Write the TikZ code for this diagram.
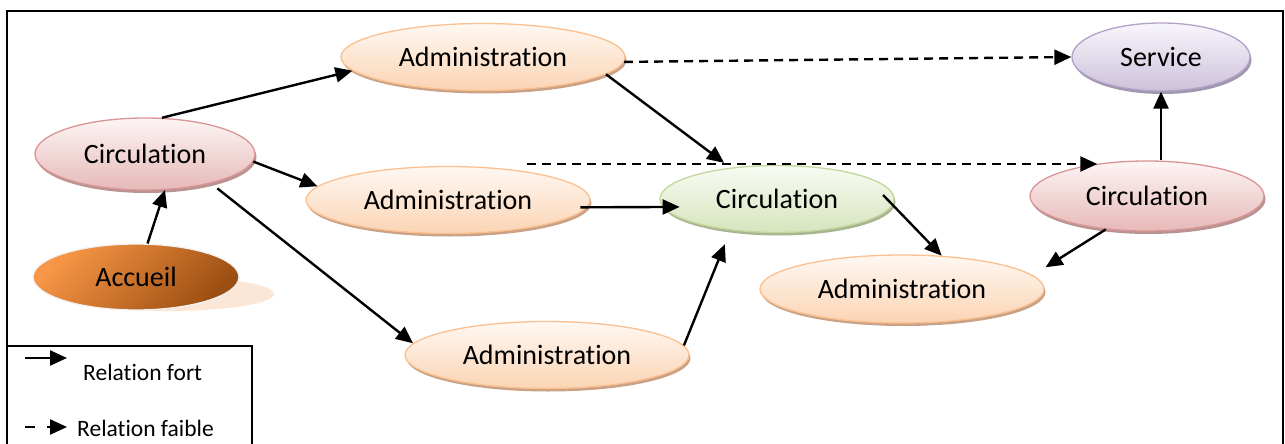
\documentclass[tikz,border=0pt]{standalone}
\usepackage{fontspec}
\setmainfont{Carlito}[Ligatures={NoCommon}, RawFeature={-liga;-clig;-dlig}]
\usetikzlibrary{shapes.geometric,shadows,arrows.meta}
\definecolor{pinkB}{HTML}{D99594}
\definecolor{pinkT}{HTML}{FDF5F5}
\definecolor{pinkF}{HTML}{E6B9B8}
\definecolor{pinkS}{HTML}{B89392}
\definecolor{orB}{HTML}{FAC08F}
\definecolor{orT}{HTML}{FFF8F2}
\definecolor{orF}{HTML}{FBD4B4}
\definecolor{orS}{HTML}{C9A286}
\definecolor{grB}{HTML}{C3D69B}
\definecolor{grT}{HTML}{F8FBF3}
\definecolor{grF}{HTML}{D7E4BD}
\definecolor{grS}{HTML}{A8B590}
\definecolor{puB}{HTML}{B3A2C7}
\definecolor{puT}{HTML}{F8F6FB}
\definecolor{puF}{HTML}{CCC1DA}
\definecolor{puS}{HTML}{A096AE}
\definecolor{acT}{HTML}{F79646}
\definecolor{acF}{HTML}{9C4F12}
\definecolor{acS}{HTML}{FCE6D6}
\begin{document}
\begin{tikzpicture}[x=1pt,y=-1pt,
  ell/.style={ellipse, inner sep=0pt, line width=1.3pt, font=\fontsize{28}{31}\selectfont},
  shd/.style={drop shadow={shadow xshift=1.5pt, shadow yshift=-3pt, fill=#1, opacity=1}},
  pinkN/.style={ell, draw=pinkB, top color=pinkT, bottom color=pinkF, shd=pinkS},
  orN/.style={ell, draw=orB, top color=orT, bottom color=orF, shd=orS},
  grN/.style={ell, draw=grB, top color=grT, bottom color=grF, shd=grS},
  puN/.style={ell, draw=puB, top color=puT, bottom color=puF, shd=puS},
  acN/.style={ell, draw=white!95!black, top color=acT, bottom color=acF, shading angle=45},
  adm/.style={orN, minimum width=284pt, minimum height=67pt},
  cir/.style={minimum width=234pt, minimum height=67pt},
  arr/.style={-{Triangle[length=17pt,width=15pt]}, line width=2.4pt},
  darr/.style={arr, dash pattern=on 9pt off 6pt},
  legtxt/.style={font=\fontsize{23.5}{26}\selectfont, inner sep=0pt, anchor=west},
  frame/.style={line width=1.6pt}
]
\useasboundingbox (0,0) rectangle (1285,444);
\fill[white] (0,0) rectangle (1285,444);
% frame
\draw[frame] (7,444) -- (7,11) -- (1283,11) -- (1283,444);
% nodes
\node[ellipse, fill=acS, minimum width=212pt, minimum height=34pt, inner sep=0pt] (acshadow) at (168,294) {};
\node[acN, minimum width=206pt, minimum height=66pt] (acc) at (136,277) {Accueil};
\node[pinkN, minimum width=220pt, minimum height=72pt] (c1) at (145,154) {Circulation};
\node[adm] (a1) at (483,57) {Administration};
\node[adm] (a2) at (448,200) {Administration};
\node[adm] (a3) at (547,355) {Administration};
\node[grN, cir] (cg) at (777,199) {Circulation};
\node[adm, minimum height=68pt] (a4) at (902,289) {Administration};
\node[puN, minimum width=178pt, minimum height=68pt] (sv) at (1161,57) {Service};
\node[pinkN, cir, minimum height=70pt] (cr) at (1147,196) {Circulation};
% connectors
\draw[arr] (acc.71) -- (c1.-61);
\draw[arr] (c1.65) -- (a1.186.5);
\draw[arr] (c1.-4) -- (a2.174);
\draw[arr, shorten <=8pt] (c1.-24) -- (a3.175);
\draw[darr] (a1.-2) -- (sv.west);
\draw[arr, shorten >=8pt] (a1.-8) -- (cg.146);
\coordinate (d0) at (527,164);
\draw[darr] (d0) -- (d0 -| cr.147);
\draw[arr, shorten <=-7pt, shorten >=-17pt] (a2.-3) -- (cg.184);
\draw[arr, shorten >=15pt] (a3.4) -- (cg.214);
\draw[arr, shorten <=-14pt] (cg.-3) -- (a4.40);
\draw[arr, shorten >=15pt] (cr.219) -- (a4.6);
\draw[arr] (sv.south |- cr.north) -- (sv.south);
% legend
\draw[frame] (8,346) -- (252,346) -- (252,444);
\coordinate (l1a) at (25,358);
\coordinate (l1b) at (67,358);
\draw[arr] (l1a) -- (l1b);
\node[legtxt] (l1) at (83,372) {Relation fort};
\coordinate (l2a) at (25,427);
\coordinate (l2b) at (67,427);
\draw[arr, dash pattern=on 10pt off 12pt] (l2a) -- (l2b);
\node[legtxt] (l2) at (77,428) {Relation faible};
\end{tikzpicture}
\end{document}
